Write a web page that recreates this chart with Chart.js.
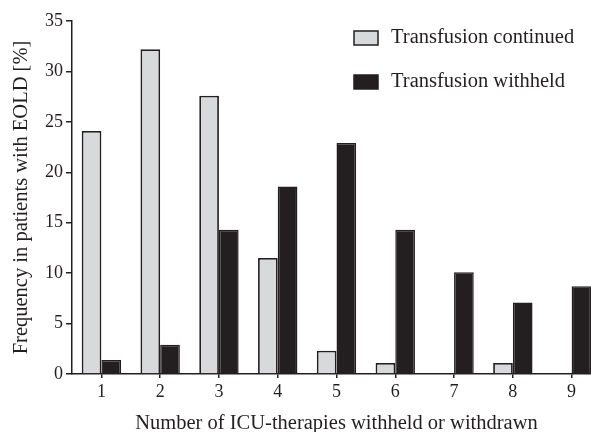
<!DOCTYPE html>
<html>
<head>
<meta charset="utf-8">
<script src="https://cdn.jsdelivr.net/npm/chart.js@4/dist/chart.umd.min.js"></script>
<style>
  html, body { margin: 0; padding: 0; background: #fff; overflow: hidden; }
  canvas { display: block; }
</style>
</head>
<body>
<canvas id="chart" width="620" height="432"></canvas>
<script>
// data
const categories = ["1", "2", "3", "4", "5", "6", "7", "8", "9"];
const continuedValues = [24.1, 32.2, 27.6, 11.5, 2.3, 1.1, 0, 1.1, 0];
const withheldValues = [1.4, 2.9, 14.3, 18.6, 22.9, 14.3, 10.1, 7.1, 8.7];
const seriesLabels = ["Transfusion continued", "Transfusion withheld"];
const yTicks = [0, 5, 10, 15, 20, 25, 30, 35];

const ink = "#231f20";
const serif = "'Liberation Serif', 'Times New Roman', serif";

// legend drawn at the top right inside the plot, like the original
const boxLegend = {
  id: "boxLegend",
  afterDraw(chart) {
    const ctx = chart.ctx;
    ctx.save();
    chart.data.datasets.forEach((ds, i) => {
      const y = 31 + i * 44;
      ctx.fillStyle = ds.backgroundColor;
      ctx.fillRect(354, y, 24, 14);
      ctx.strokeStyle = ink;
      ctx.lineWidth = 1.5;
      ctx.strokeRect(354, y, 24, 14);
      ctx.fillStyle = ink;
      ctx.font = "20.5px " + serif;
      ctx.textBaseline = "middle";
      ctx.fillText(ds.label, 391, y + 7);
    });
    ctx.restore();
  },
};

const data = {
  labels: categories,
  datasets: [
    {
      label: seriesLabels[0],
      data: continuedValues,
      backgroundColor: "#d8d9db",
      borderColor: ink,
      borderWidth: 1.8,
    },
    {
      label: seriesLabels[1],
      data: withheldValues,
      backgroundColor: ink,
      borderColor: ink,
      borderWidth: 1.5,
    },
  ],
};

const config = {
  type: "bar",
  data,
  options: {
    responsive: false,
    animation: false,
    layout: { padding: { top: 21, right: 19, left: 9, bottom: 0 } },
    datasets: {
      bar: { categoryPercentage: 0.67, barPercentage: 1.0 },
    },
    plugins: {
      legend: { display: false },
      tooltip: { enabled: false },
    },
    scales: {
      x: {
        grid: {
          display: true,
          drawOnChartArea: false,
          drawTicks: true,
          tickLength: 4,
          offset: false,
          color: ink,
          lineWidth: 1.5,
        },
        border: { display: true, color: ink, width: 1.5 },
        ticks: {
          color: ink,
          font: { family: serif, size: 18 },
          padding: 3,
        },
        title: {
          display: true,
          text: "Number of ICU-therapies withheld or withdrawn",
          color: ink,
          font: { family: serif, size: 20.5 },
          padding: { top: 10, bottom: -4 },
        },
        afterFit(scale) {
          scale.height = 58;
        },
      },
      y: {
        min: 0,
        max: 35,
        afterBuildTicks(scale) {
          scale.ticks = yTicks.map((v) => ({ value: v }));
        },
        grid: {
          display: true,
          drawOnChartArea: false,
          drawTicks: true,
          tickLength: 6,
          color: ink,
          lineWidth: 1.5,
        },
        border: { display: true, color: ink, width: 1.5 },
        ticks: {
          color: ink,
          font: { family: serif, size: 18 },
          padding: 3,
        },
        title: {
          display: true,
          text: "Frequency in patients with EOLD [%]",
          color: ink,
          font: { family: serif, size: 20.5 },
          padding: { top: 0, bottom: 6 },
        },
        afterFit(scale) {
          scale.width = 63;
        },
      },
    },
  },
  plugins: [boxLegend],
};

const chart = new Chart(document.querySelector("#chart"), config);
</script>
</body>
</html>
